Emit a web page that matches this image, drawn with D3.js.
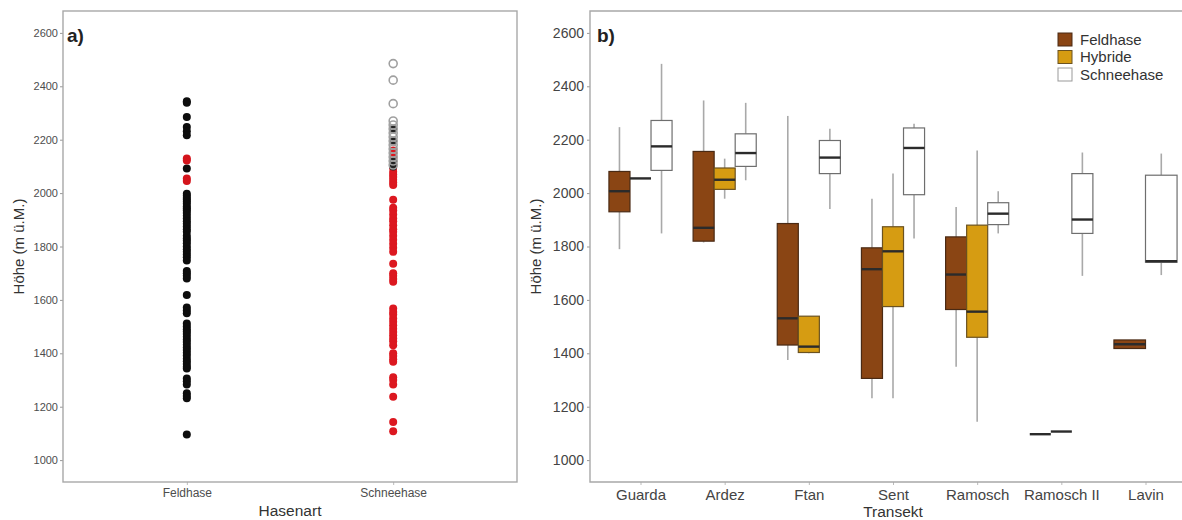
<!DOCTYPE html>
<html><head><meta charset="utf-8">
<script src="https://cdn.jsdelivr.net/npm/d3@7"></script>
<style>body{margin:0;background:#fff}svg{display:block;font-family:"Liberation Sans",Arial,sans-serif}</style>
</head><body><svg id="c" width="1182" height="520"></svg>
<script>
// ---------- data ----------
const speciesA = ["Feldhase", "Schneehase"];
const yTicks = [1000, 1200, 1400, 1600, 1800, 2000, 2200, 2400, 2600];
// panel a points (Höhe m ü.M.)
const feldBlack = [2344,2338,2285,2248,2232,2217,2092,1998,1990,1982,1975,1968,1960,1950,1942,1935,1925,1915,1905,1895,1885,1875,1865,1855,1840,1830,1822,1812,1800,1790,1780,1770,1760,1748,1708,1700,1690,1680,1618,1572,1560,1550,1512,1500,1490,1482,1472,1462,1452,1442,1432,1422,1412,1402,1392,1380,1370,1360,1350,1343,1306,1295,1283,1250,1240,1232,1096];
const feldRed = [2130,2122,2055,2045];
const schneeRed = [2160,2150,2140,2130,2118,2108,2095,2080,2070,2060,2050,2040,2030,1975,1945,1935,1920,1905,1895,1880,1865,1855,1840,1825,1810,1795,1780,1735,1700,1690,1678,1668,1568,1555,1545,1530,1518,1505,1492,1480,1468,1455,1445,1430,1400,1390,1378,1368,1310,1300,1283,1237,1143,1108];
const schneeBlack = [2240,2195,2120,2100];
const schneeGrey = [2485,2423,2335,2270,2255,2240,2225,2210,2195,2180,2165,2150,2135,2120,2105];

// panel b boxplots
const transects = ["Guarda","Ardez","Ftan","Sent","Ramosch","Ramosch II","Lavin"];
const groups = ["Feldhase","Hybride","Schneehase"];
const feldMin = [1790,1815,1375,1232,1350,1097,1416];
const feldQ1  = [1930,1820,1431,1306,1564,1097,1418];
const feldMed = [2007,1870,1531,1715,1695,1097,1434];
const feldQ3  = [2081,2156,1886,1795,1836,1097,1450];
const feldMax = [2247,2347,2289,1979,1948,1097,1450];
const hybMin = [2055,1979,1400,1232,1144,1107,null];
const hybQ1  = [2055,2014,1403,1575,1460,1107,null];
const hybMed = [2055,2050,1425,1782,1556,1107,null];
const hybQ3  = [2055,2094,1539,1874,1880,1107,null];
const hybMax = [2055,2129,1539,2073,2160,1107,null];
const schMin = [1849,2048,1940,1830,1849,1690,1693];
const schQ1  = [2085,2100,2073,1994,1882,1849,1741];
const schMed = [2175,2150,2133,2169,1923,1901,1745];
const schQ3  = [2272,2222,2197,2244,1964,2073,2067];
const schMax = [2484,2338,2241,2260,2007,2152,2148];

// ---------- drawing ----------
const svg = d3.select("#c");
const fill = {Feldhase:"#8a4514", Hybride:"#d69c12", Schneehase:"#ffffff"};
const stroke = {Feldhase:"#4a2a14", Hybride:"#6b5220", Schneehase:"#6e6e6e"};
const yTop = 11, yBot = 482;
const y = d3.scaleLinear().domain([918, 2682]).range([yBot, yTop]);
const fmt = d3.format("d");

function frame(x0, x1, clipRight) {
  const g = svg.append("g");
  if (clipRight) {
    g.append("path").attr("d", `M${x1},${yTop}H${x0}V${yBot}H${x1}`)
      .attr("fill","none").attr("stroke","#a8a8a8").attr("stroke-width",1.4);
  } else {
    g.append("rect").attr("x",x0).attr("y",yTop).attr("width",x1-x0).attr("height",yBot-yTop)
      .attr("fill","none").attr("stroke","#a8a8a8").attr("stroke-width",1.4);
  }
}

// ---- Panel a ----
const ax0 = 63, ax1 = 517;
const xa = d3.scalePoint().domain(speciesA).range([ax0, ax1]).padding(0.6);
const yAxA = svg.append("g").attr("transform",`translate(${ax0},0)`)
  .call(d3.axisLeft(y).tickValues(yTicks).tickFormat(fmt).tickSize(3).tickPadding(2));
yAxA.select(".domain").remove();
yAxA.selectAll("line").attr("stroke","#999");
yAxA.selectAll("text").attr("font-size",11).attr("fill","#4d4d4d");
const xAxA = svg.append("g").attr("transform",`translate(0,${yBot})`)
  .call(d3.axisBottom(xa).tickSize(3).tickPadding(3));
xAxA.select(".domain").remove();
xAxA.selectAll("line").attr("stroke","#bbb");
xAxA.selectAll("text").attr("font-size",12).attr("fill","#4d4d4d");
frame(ax0, ax1, false);

function dots(vals, sp, f, s, sw) {
  svg.append("g").selectAll("circle").data(vals).join("circle")
    .attr("cx", xa(sp)).attr("cy", d => y(d)).attr("r", 4)
    .attr("fill", f).attr("stroke", s).attr("stroke-width", sw);
}
dots(feldBlack, "Feldhase", "#0d0d0d", "none", 0);
dots(feldRed, "Feldhase", "#d4141c", "none", 0);
dots(schneeRed, "Schneehase", "#dc1820", "none", 0);
dots(schneeBlack, "Schneehase", "#222", "none", 0);
dots(schneeGrey, "Schneehase", "none", "#a0a0a0", 1.6);

svg.append("text").attr("x",67).attr("y",42).attr("font-size",19).attr("font-weight","bold").attr("fill","#222").text("a)");
svg.append("text").attr("x",(ax0+ax1)/2).attr("y",516).attr("text-anchor","middle").attr("font-size",15.5).attr("fill","#333").text("Hasenart");
svg.append("text").attr("transform",`translate(24,${(yTop+yBot)/2}) rotate(-90)`).attr("text-anchor","middle").attr("font-size",15).attr("fill","#333").text("Höhe (m ü.M.)");

// ---- Panel b ----
const bx0 = 590, bx1 = 1196;
const xb = d3.scalePoint().domain(transects).range([bx0, bx1]).padding(0.6);
const step = xb.step();
const yAxB = svg.append("g").attr("transform",`translate(${bx0},0)`)
  .call(d3.axisLeft(y).tickValues(yTicks).tickFormat(fmt).tickSize(3).tickPadding(3));
yAxB.select(".domain").remove();
yAxB.selectAll("line").attr("stroke","#999");
yAxB.selectAll("text").attr("font-size",14).attr("fill","#444");
const xAxB = svg.append("g").attr("transform",`translate(0,${yBot})`)
  .call(d3.axisBottom(xb).tickSize(3).tickPadding(4));
xAxB.select(".domain").remove();
xAxB.selectAll("line").attr("stroke","#bbb");
xAxB.selectAll("text").attr("font-size",15).attr("fill","#444");
frame(bx0, bx1, true);

const stats = {
  Feldhase: [feldMin, feldQ1, feldMed, feldQ3, feldMax],
  Hybride: [hybMin, hybQ1, hybMed, hybQ3, hybMax],
  Schneehase: [schMin, schQ1, schMed, schQ3, schMax]
};
const boxes = [];
transects.forEach((t, i) => {
  const present = groups.filter(g => stats[g][0][i] !== null);
  const inner = d3.scaleBand().domain(present).range([-0.375*step, 0.375*step]);
  present.forEach(g => {
    const s = stats[g];
    boxes.push({t, g, x: xb(t) + inner(g), w: inner.bandwidth(),
      min: s[0][i], q1: s[1][i], med: s[2][i], q3: s[3][i], max: s[4][i]});
  });
});
const bg = svg.append("g");
const bsel = bg.selectAll("g").data(boxes).join("g");
bsel.append("line").attr("x1", d => d.x + d.w/2).attr("x2", d => d.x + d.w/2)
  .attr("y1", d => y(d.max)).attr("y2", d => y(d.q3)).attr("stroke","#a9a9a9").attr("stroke-width",1.6);
bsel.append("line").attr("x1", d => d.x + d.w/2).attr("x2", d => d.x + d.w/2)
  .attr("y1", d => y(d.q1)).attr("y2", d => y(d.min)).attr("stroke","#a9a9a9").attr("stroke-width",1.6);
bsel.filter(d => d.q3 > d.q1).append("rect").attr("x", d => d.x).attr("width", d => d.w)
  .attr("y", d => y(d.q3)).attr("height", d => y(d.q1) - y(d.q3))
  .attr("fill", d => fill[d.g]).attr("stroke", d => stroke[d.g]).attr("stroke-width",1.2);
bsel.append("line").attr("x1", d => d.x).attr("x2", d => d.x + d.w)
  .attr("y1", d => y(d.med)).attr("y2", d => y(d.med)).attr("stroke","#2b2b2b").attr("stroke-width",2.4);

svg.append("text").attr("x",597).attr("y",42).attr("font-size",19).attr("font-weight","bold").attr("fill","#222").text("b)");
svg.append("text").attr("x",(bx0 + bx1)/2).attr("y",517).attr("text-anchor","middle").attr("font-size",15.5).attr("fill","#333").text("Transekt");
svg.append("text").attr("transform",`translate(541,${(yTop+yBot)/2}) rotate(-90)`).attr("text-anchor","middle").attr("font-size",15).attr("fill","#333").text("Höhe (m ü.M.)");

// legend
const lg = svg.append("g").selectAll("g").data(groups).join("g")
  .attr("transform", (d,i) => `translate(1058,${33 + i*17.5})`);
lg.append("rect").attr("width",14).attr("height",13).attr("fill", d => fill[d])
  .attr("stroke", d => d === "Schneehase" ? "#999" : stroke[d]).attr("stroke-width",1);
lg.append("text").attr("x",22).attr("y",11.5).attr("font-size",15).attr("fill","#333").text(d => d);
</script></body></html>
